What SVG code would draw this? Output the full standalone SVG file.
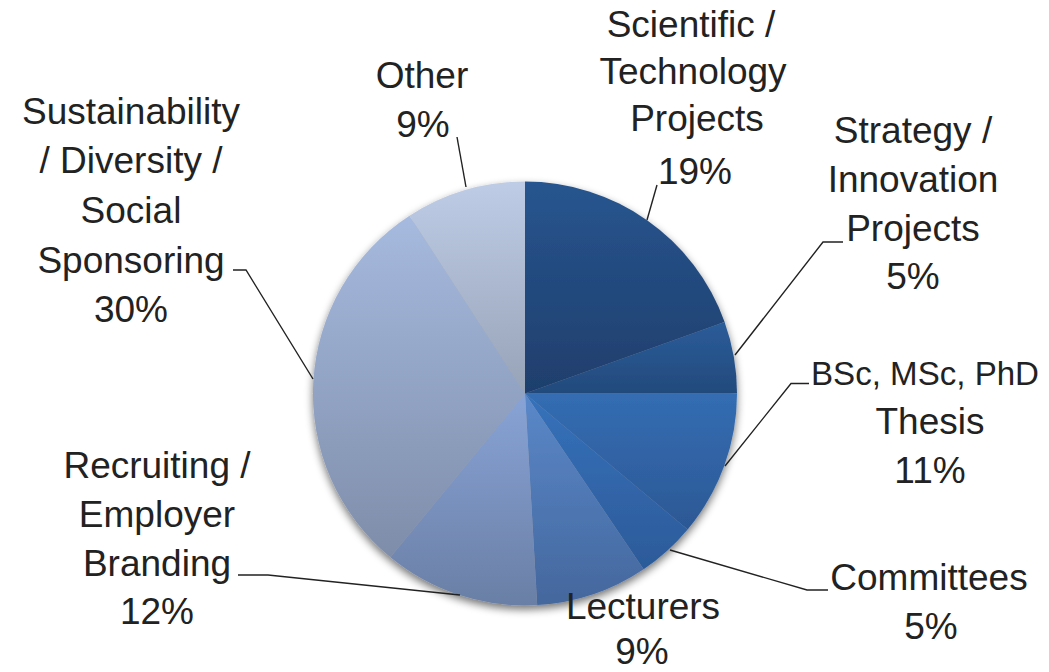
<svg xmlns="http://www.w3.org/2000/svg" width="1049" height="672" viewBox="0 0 1049 672">
<style>
  text { font-family: "Liberation Sans", Arial, sans-serif; font-size: 37px; fill: #222; text-anchor: middle; }
  .leader { fill: none; stroke: #222; stroke-width: 1.4; }
  .slice { stroke: none; }
</style>
<defs>
  <filter id="shadow" x="-10%" y="-10%" width="120%" height="125%">
    <feGaussianBlur in="SourceAlpha" stdDeviation="4"/>
    <feOffset dx="0" dy="4" result="b"/>
    <feComponentTransfer><feFuncA type="linear" slope="0.55"/></feComponentTransfer>
    <feMerge><feMergeNode/><feMergeNode in="SourceGraphic"/></feMerge>
  </filter>
  <linearGradient id="gSci" x1="0" y1="0" x2="0" y2="1"><stop offset="0" stop-color="#27558f"/><stop offset="1" stop-color="#1f3e6c"/></linearGradient>
  <linearGradient id="gStr" x1="0" y1="0" x2="0" y2="1"><stop offset="0" stop-color="#2b5c9a"/><stop offset="1" stop-color="#234a7c"/></linearGradient>
  <linearGradient id="gBsc" x1="0" y1="0" x2="0" y2="1"><stop offset="0" stop-color="#346db3"/><stop offset="1" stop-color="#2c5895"/></linearGradient>
  <linearGradient id="gCom" x1="0" y1="0" x2="0" y2="1"><stop offset="0" stop-color="#3672bb"/><stop offset="1" stop-color="#2c5a99"/></linearGradient>
  <linearGradient id="gLec" x1="0" y1="0" x2="0" y2="1"><stop offset="0" stop-color="#5a88c9"/><stop offset="1" stop-color="#44679d"/></linearGradient>
  <linearGradient id="gRec" x1="0" y1="0" x2="0" y2="1"><stop offset="0" stop-color="#88a3d6"/><stop offset="1" stop-color="#6a7fa5"/></linearGradient>
  <linearGradient id="gSus" x1="0" y1="0" x2="0" y2="1"><stop offset="0" stop-color="#a6badf"/><stop offset="1" stop-color="#7e8da9"/></linearGradient>
  <linearGradient id="gOth" x1="0" y1="0" x2="0" y2="1"><stop offset="0" stop-color="#becce6"/><stop offset="1" stop-color="#97a3b7"/></linearGradient>
</defs>
<rect width="1049" height="672" fill="#ffffff"/>
<g id="pie" filter="url(#shadow)">
  <path id="slice-scientific" class="slice" fill="url(#gSci)" d="M525,393.5 L525,181.5 A212,212 0 0 1 724.6,322 Z"/>
  <path id="slice-strategy" class="slice" fill="url(#gStr)" d="M525,393.5 L724.6,322 A212,212 0 0 1 737,393.5 Z"/>
  <path id="slice-bsc" class="slice" fill="url(#gBsc)" d="M525,393.5 L737,393.5 A212,212 0 0 1 687.6,529.5 Z"/>
  <path id="slice-committees" class="slice" fill="url(#gCom)" d="M525,393.5 L687.6,529.5 A212,212 0 0 1 643.6,569.3 Z"/>
  <path id="slice-lecturers" class="slice" fill="url(#gLec)" d="M525,393.5 L643.6,569.3 A212,212 0 0 1 537.2,605.1 Z"/>
  <path id="slice-recruiting" class="slice" fill="url(#gRec)" d="M525,393.5 L537.2,605.1 A212,212 0 0 1 390.4,557.3 Z"/>
  <path id="slice-sustainability" class="slice" fill="url(#gSus)" d="M525,393.5 L390.4,557.3 A212,212 0 0 1 409.5,215.7 Z"/>
  <path id="slice-other" class="slice" fill="url(#gOth)" d="M525,393.5 L409.5,215.7 A212,212 0 0 1 525,181.5 Z"/>
</g>
<g id="connectors">
  <polyline class="leader" points="233,270 246,270 313,379"/>
  <polyline class="leader" points="457,137 466,187"/>
  <polyline class="leader" points="657,185 647,220"/>
  <polyline class="leader" points="843,242 823,242 735,355"/>
  <polyline class="leader" points="809,383.5 791,383.5 725,466"/>
  <polyline class="leader" points="828,590 807,590 670,550"/>
  <polyline class="leader" points="238,575 268,575 460,595"/>
</g>
<g id="label-sustainability">
  <text x="131" y="124">Sustainability</text>
  <text x="131" y="173">/ Diversity /</text>
  <text x="131" y="223">Social</text>
  <text x="131" y="273">Sponsoring</text>
  <text x="131" y="322">30%</text>
</g>
<g id="label-other">
  <text x="422" y="88">Other</text>
  <text x="423" y="137">9%</text>
</g>
<g id="label-scientific">
  <text x="691" y="37">Scientific /</text>
  <text x="693" y="84">Technology</text>
  <text x="697" y="131">Projects</text>
  <text x="695" y="184">19%</text>
</g>
<g id="label-strategy">
  <text x="913" y="143">Strategy /</text>
  <text x="913" y="192">Innovation</text>
  <text x="913" y="241">Projects</text>
  <text x="913" y="289">5%</text>
</g>
<g id="label-bsc">
  <text x="925" y="385" style="font-size:33px" textLength="228" lengthAdjust="spacingAndGlyphs">BSc, MSc, PhD</text>
  <text x="930" y="434">Thesis</text>
  <text x="930" y="483">11%</text>
</g>
<g id="label-recruiting">
  <text x="157" y="478">Recruiting /</text>
  <text x="157" y="527">Employer</text>
  <text x="157" y="576">Branding</text>
  <text x="157" y="624">12%</text>
</g>
<g id="label-committees">
  <text x="929" y="590">Committees</text>
  <text x="931" y="639">5%</text>
</g>
<g id="label-lecturers">
  <text x="643" y="619">Lecturers</text>
  <text x="642" y="664">9%</text>
</g>
</svg>
